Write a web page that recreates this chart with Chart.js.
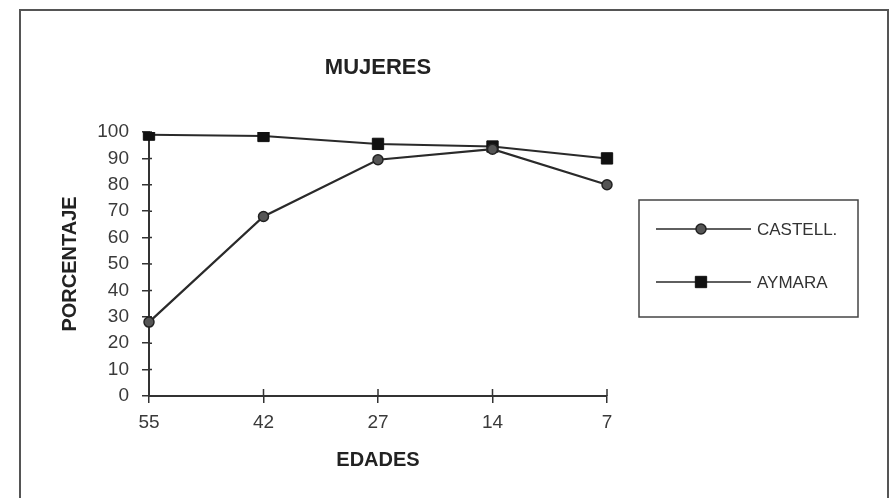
<!DOCTYPE html>
<html>
<head>
<meta charset="utf-8">
<script src="https://cdn.jsdelivr.net/npm/chart.js@4.4.1/dist/chart.umd.min.js"></script>
<style>
  html, body { margin: 0; padding: 0; background: #fff; }
  #wrap { position: relative; width: 890px; height: 498px; overflow: hidden; }
  #frame { position: absolute; left: 19px; top: 9px; width: 866px; height: 500px;
           border-left: 2px solid #555; border-top: 2px solid #555; border-right: 2px solid #555; }
  canvas { position: absolute; left: 0; top: 0; }
</style>
</head>
<body>
<div id="wrap">
  <div id="frame"></div>
  <canvas id="c" width="890" height="498"></canvas>
</div>
<script>
const categories = ['55', '42', '27', '14', '7'];
const castell = [28, 68, 89.5, 93.5, 80];
const aymara = [99, 98.5, 95.5, 94.5, 90];
const seriesNames = ['CASTELL.', 'AYMARA'];
const chartTitle = 'MUJERES';
const xTitle = 'EDADES';
const yTitle = 'PORCENTAJE';

const FONT = "'Liberation Sans', Arial, Helvetica, sans-serif";

const innerTicks = {
  id: 'innerTicks',
  beforeDatasetsDraw(chart) {
    const ctx = chart.ctx;
    const xs = chart.scales.x, ys = chart.scales.y;
    ctx.save();
    ctx.strokeStyle = '#333';
    ctx.lineWidth = 1.5;
    ctx.beginPath();
    xs.ticks.forEach((t, i) => {
      const px = xs.getPixelForTick(i);
      ctx.moveTo(px, xs.top);
      ctx.lineTo(px, xs.top - 7);
    });
    ys.ticks.forEach((t, i) => {
      const py = ys.getPixelForTick(i);
      ctx.moveTo(ys.right, py);
      ctx.lineTo(ys.right + 3, py);
    });
    ctx.stroke();
    ctx.restore();
  }
};

const boxLegend = {
  id: 'boxLegend',
  afterDraw(chart) {
    const ctx = chart.ctx;
    const L = 639, T = 200, R = 858, B = 317;
    ctx.save();
    ctx.strokeStyle = '#444';
    ctx.lineWidth = 1.5;
    ctx.strokeRect(L, T, R - L, B - T);
    const rows = [229, 282];
    chart.data.datasets.forEach((ds, i) => {
      const y = rows[i];
      ctx.strokeStyle = ds.borderColor;
      ctx.lineWidth = 1.5;
      ctx.beginPath();
      ctx.moveTo(656, y);
      ctx.lineTo(751, y);
      ctx.stroke();
      ctx.fillStyle = ds.pointBackgroundColor;
      ctx.strokeStyle = ds.pointBorderColor;
      ctx.lineWidth = ds.pointBorderWidth;
      Chart.helpers.drawPoint(ctx, {pointStyle: ds.pointStyle, radius: ds.pointRadius, borderWidth: ds.pointBorderWidth, rotation: 0}, 701, y);
      ctx.fillStyle = '#333';
      ctx.font = "17px " + FONT;
      ctx.textBaseline = 'middle';
      ctx.textAlign = 'left';
      ctx.fillText(ds.label, 757, y + 1);
    });
    ctx.restore();
  }
};

new Chart(document.getElementById('c'), {
  type: 'line',
  data: {
    labels: categories,
    datasets: [
      {
        label: seriesNames[0],
        data: castell,
        borderColor: '#2a2a2a',
        borderWidth: 2.2,
        pointStyle: 'circle',
        pointRadius: 5,
        pointBackgroundColor: '#555',
        pointBorderColor: '#222',
        pointBorderWidth: 1.5,
        tension: 0
      },
      {
        label: seriesNames[1],
        data: aymara,
        borderColor: '#2a2a2a',
        borderWidth: 2,
        pointStyle: 'rect',
        pointRadius: 8,
        pointBackgroundColor: '#111',
        pointBorderColor: '#111',
        pointBorderWidth: 1,
        tension: 0
      }
    ]
  },
  options: {
    responsive: false,
    animation: false,
    layout: { padding: { left: 0, right: 283, top: 0, bottom: 0 } },
    plugins: {
      legend: { display: false },
      tooltip: { enabled: false },
      title: {
        display: true,
        text: chartTitle,
        fullSize: false,
        color: '#222',
        font: { family: FONT, size: 22, weight: 'bold', lineHeight: 1.2 },
        padding: { top: 55, bottom: 50.6 }
      }
    },
    scales: {
      x: {
        type: 'category',
        offset: false,
        afterFit: s => { s.height = 102; },
        border: { display: true, color: '#333', width: 2 },
        grid: { drawOnChartArea: false, drawTicks: true, tickLength: 7, color: '#333', lineWidth: 1.5 },
        ticks: { color: '#3a3a3a', padding: 8, font: { family: FONT, size: 19 }, maxRotation: 0 },
        title: {
          display: true, text: xTitle, color: '#222',
          font: { family: FONT, size: 20, weight: 'bold', lineHeight: 1.2 },
          padding: { top: 0, bottom: 26 }
        }
      },
      y: {
        min: 0, max: 100,
        afterFit: s => { s.width = 149; },
        border: { display: true, color: '#333', width: 2 },
        grid: { drawOnChartArea: false, drawTicks: true, tickLength: 7, color: '#333', lineWidth: 1.5 },
        ticks: { stepSize: 10, color: '#3a3a3a', padding: 13, font: { family: FONT, size: 19 } },
        title: {
          display: true, text: yTitle, color: '#222',
          font: { family: FONT, size: 20, weight: 'bold', lineHeight: 1.2 },
          padding: { top: 58, bottom: 0 }
        }
      }
    }
  },
  plugins: [innerTicks, boxLegend]
});
</script>
</body>
</html>
